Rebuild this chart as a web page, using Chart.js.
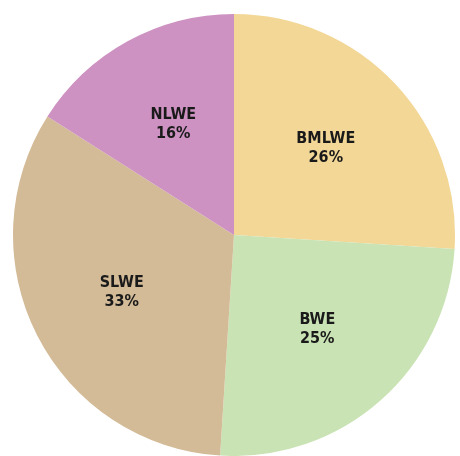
<!DOCTYPE html>
<html>
<head>
<meta charset="utf-8">
<script src="https://cdn.jsdelivr.net/npm/chart.js@4"></script>
<style>
html,body{margin:0;padding:0;background:#fff;}
#wrap{width:460px;height:456px;}
</style>
</head>
<body>
<div id="wrap"><canvas id="c" width="460" height="456"></canvas></div>
<script>
const categories = ["BMLWE", "BWE", "SLWE", "NLWE"];
const shares = [26, 25, 33, 16];
const sliceColors = ["#F2D796", "#C9E3B4", "#D4BB98", "#CD92C1"];

const labelPlugin = {
  id: 'sliceLabels',
  afterDatasetsDraw(chart) {
    const ctx = chart.ctx;
    const meta = chart.getDatasetMeta(0);
    ctx.save();
    ctx.fillStyle = '#1a1a1a';
    ctx.textAlign = 'center';
    ctx.textBaseline = 'middle';
    ctx.font = 'bold 16px "DejaVu Sans Condensed", "Liberation Sans Narrow", sans-serif';
    meta.data.forEach((arc, i) => {
      const p = arc.getProps(['x','y','startAngle','endAngle','outerRadius'], true);
      const mid = (p.startAngle + p.endAngle) / 2;
      const r = p.outerRadius * 0.57;
      const x = p.x + Math.cos(mid) * r;
      const y = p.y + Math.sin(mid) * r;
      ctx.fillText(categories[i], x, y - 9.5);
      ctx.fillText(shares[i] + '%', x, y + 9.5);
    });
    ctx.restore();
  }
};

new Chart(document.getElementById('c'), {
  type: 'pie',
  data: {
    labels: categories,
    datasets: [{
      data: shares,
      backgroundColor: sliceColors,
      borderWidth: 0
    }]
  },
  options: {
    responsive: false,
    animation: false,
    layout: { padding: { top: 14, bottom: 0, left: 13, right: 5 } },
    plugins: { legend: { display: false }, tooltip: { enabled: false } }
  },
  plugins: [labelPlugin]
});
</script>
</body>
</html>
